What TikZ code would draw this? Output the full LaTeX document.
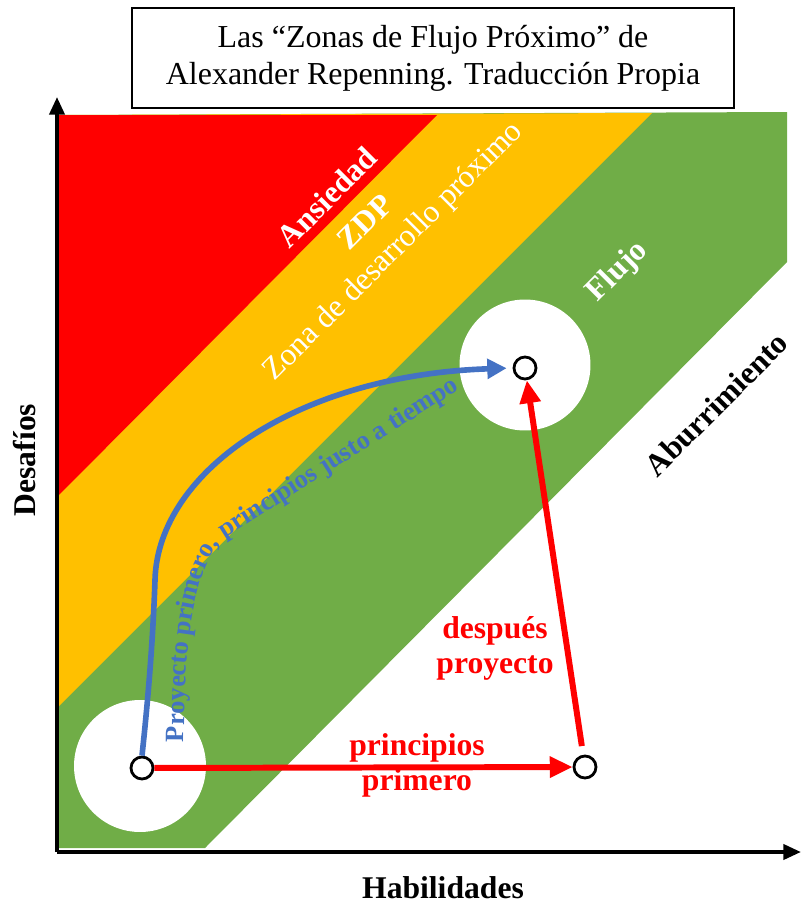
\documentclass[tikz,border=0pt]{standalone}
\usepackage{fontspec}
\setmainfont{Liberation Serif}
\usetikzlibrary{arrows.meta,decorations.text}
\definecolor{cred}{HTML}{FF0000}
\definecolor{cyel}{HTML}{FFC000}
\definecolor{cgrn}{HTML}{70AD47}
\definecolor{cblu}{HTML}{4472C4}
\begin{document}
\begin{tikzpicture}[x=0.02cm,y=-0.02cm,
  lbl/.style={font=\fontsize{18}{20}\selectfont\bfseries},
  zlbl/.style={lbl,text=white,rotate=45},
  dot/.style={circle,draw=black,line width=1.6pt,fill=white,minimum size=0.44cm,inner sep=0pt},
  axis/.style={line width=2.2pt,-{Triangle[length=10pt,width=8.5pt]}},
  redarrow/.style={draw=cred,line width=3.4pt,-{Triangle[length=13pt,width=11.5pt]}},
  bluearrow/.style={draw=cblu,line width=3.2pt,-{Triangle[length=11pt,width=11pt]}},
  redlbl/.style={lbl,text=cred,align=center}]
\useasboundingbox (0,0) rectangle (802,903);
% zones
\fill[cgrn] (57,115) -- (787,112) -- (787,262) -- (205,848) -- (57,848) -- cycle;
\fill[cyel] (57,115) -- (652,113) -- (57,708) -- cycle;
\fill[cred] (57,115) -- (437,115) -- (57,497) -- cycle;
\fill[white] (140,766) circle[radius=1.32cm];
\fill[white] (525,365) circle[radius=1.31cm];
% axes
\coordinate (o) at (57,852);
\coordinate (ytop) at (57,97);
\coordinate (xend) at (801,852);
\draw[axis] (o) -- (ytop);
\draw[axis] (o) -- (xend);
% title
\node[draw,line width=1.1pt,minimum width=12.04cm,minimum height=2cm,align=center,
  font=\fontsize{18.2}{21}\selectfont] (title) at (433,58)
  {Las “Zonas de Flujo Próximo” de\\Alexander Repenning. Traducción Propia};
% zone labels
\node[zlbl] (ans) at (327,197) {Ansiedad};
\node[zlbl] (zdp) at (365,222) {ZDP};
\node[font=\fontsize{18}{20}\selectfont,text=white,rotate=45] (zona) at (394,252) {Zona de desarrollo próximo};
\node[zlbl] (flu) at (618,272) {Flujo};
\node[lbl,rotate=45] (abu) at (716,404) {Aburrimiento};
\node[lbl,rotate=90] (des) at (25,460) {Desafíos};
\node[lbl] (hab) at (443,888) {Habilidades};
% points
\node[dot] (lc) at (142,768) {};
\node[dot] (uc) at (525,368) {};
\node[dot] (rc) at (585,767) {};
% arrows
\draw[redarrow] (lc) -- (rc);
\draw[redarrow,shorten <=5pt] (rc) -- (uc);
\draw[bluearrow,shorten >=3.4pt] (lc.north) .. controls (148,700) and (153,640) .. (155,580)
  .. controls (158,470) and (300,375) .. (uc.west);
\path[decorate,decoration={text along path,text align=left,
  text={|\fontsize{15}{18}\selectfont\bfseries\color{cblu}|Proyecto primero, principios justo a tiempo}}]
  (184,742) .. controls (184,623) and (199,554) .. (230,535) -- (490,370);
\node[redlbl] (desp) at (495,648) {después\\proyecto};
\node[redlbl] (prin) at (417,765) {principios\\primero};
\end{tikzpicture}
\end{document}
